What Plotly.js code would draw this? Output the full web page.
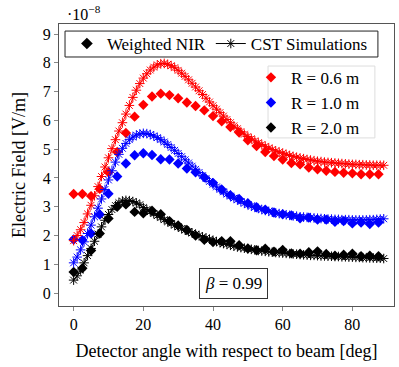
<!DOCTYPE html>
<html>
<head>
<meta charset="utf-8">
<script src="https://cdn.plot.ly/plotly-3.0.1.min.js"></script>
<style>
  html, body { margin: 0; padding: 0; background: #fff; }
  #chart { width: 399px; height: 367px; }
</style>
</head>
<body>
<div id="chart"></div>
<script>
// values are in units of 1e-8 V/m (the axis carries the ·10^-8 factor)
const nirAngle = [0, 2.5, 5, 7.5, 10, 12.5, 15, 17.5, 20, 22.5, 25, 27.5, 30, 32.5, 35, 37.5, 40, 42.5,
    45, 47.5, 50, 52.5, 55, 57.5, 60, 62.5, 65, 67.5, 70, 72.5, 75, 77.5, 80, 82.5, 85, 87.5];

const nirR06 = [3.44, 3.44, 3.37, 3.62, 4.2, 4.9, 5.56, 6.13, 6.54, 6.83, 6.93, 6.88, 6.77, 6.62, 6.5, 6.35, 6.15, 5.97,
    5.77, 5.58, 5.31, 5.11, 4.9, 4.76, 4.64, 4.52, 4.47, 4.36, 4.3, 4.25, 4.21, 4.18, 4.16, 4.13, 4.13, 4.13];
const nirR10 = [1.86, 1.84, 2.07, 2.73, 3.45, 4.05, 4.5, 4.79, 4.86, 4.8, 4.65, 4.64, 4.5, 4.33, 4.2, 4.02, 3.83, 3.6,
    3.4, 3.27, 3.12, 2.98, 2.9, 2.8, 2.74, 2.7, 2.6, 2.62, 2.55, 2.55, 2.48, 2.5, 2.42, 2.45, 2.4, 2.45];
const nirR20 = [0.73, 0.86, 1.48, 2.07, 2.59, 3.0, 3.08, 2.82, 2.77, 2.86, 2.74, 2.5, 2.35, 2.19, 2.0, 1.85, 1.77, 1.8,
    1.8, 1.66, 1.55, 1.49, 1.54, 1.44, 1.5, 1.38, 1.37, 1.42, 1.45, 1.36, 1.3, 1.33, 1.37, 1.28, 1.3, 1.28];

const cstAngle = [0, 1, 2, 3, 4, 5, 6, 7, 8, 9, 10, 11, 12, 13, 14, 15, 16, 17, 18, 19, 20, 21, 22, 23, 24, 25, 26, 27, 28, 29,
    30, 31, 32, 33, 34, 35, 36, 37, 38, 39, 40, 41, 42, 43, 44, 45, 46, 47, 48, 49, 50, 51, 52, 53, 54, 55, 56, 57, 58, 59,
    60, 61, 62, 63, 64, 65, 66, 67, 68, 69, 70, 71, 72, 73, 74, 75, 76, 77, 78, 79, 80, 81, 82, 83, 84, 85, 86, 87, 88, 89];

const cstR06 = [1.82, 2.0, 2.2, 2.45, 2.75, 3.05, 3.38, 3.7, 4.05, 4.38,
    4.7, 5.02, 5.33, 5.63, 5.92, 6.22, 6.52, 6.8, 7.05, 7.28,
    7.47, 7.62, 7.75, 7.85, 7.93, 7.97, 7.98, 7.95, 7.9, 7.83,
    7.74, 7.64, 7.53, 7.41, 7.29, 7.16, 7.03, 6.9, 6.77, 6.64,
    6.51, 6.39, 6.27, 6.15, 6.03, 5.92, 5.81, 5.71, 5.61, 5.52,
    5.44, 5.36, 5.29, 5.22, 5.16, 5.1, 5.04, 4.99, 4.94, 4.9,
    4.86, 4.82, 4.78, 4.75, 4.72, 4.69, 4.67, 4.64, 4.62, 4.6,
    4.58, 4.57, 4.55, 4.54, 4.53, 4.52, 4.51, 4.5, 4.49, 4.48,
    4.47, 4.47, 4.46, 4.46, 4.45, 4.45, 4.44, 4.44, 4.44, 4.44];
const cstR10 = [1.05, 1.25, 1.5, 1.78, 2.07, 2.36, 2.65, 2.95, 3.27, 3.6,
    3.93, 4.25, 4.55, 4.82, 5.03, 5.2, 5.33, 5.42, 5.49, 5.53,
    5.55, 5.54, 5.51, 5.46, 5.4, 5.33, 5.25, 5.16, 5.06, 4.96,
    4.85, 4.74, 4.63, 4.52, 4.41, 4.3, 4.19, 4.08, 3.98, 3.88,
    3.78, 3.69, 3.6, 3.52, 3.44, 3.37, 3.3, 3.24, 3.18, 3.12,
    3.07, 3.02, 2.98, 2.94, 2.9, 2.87, 2.84, 2.81, 2.78, 2.76,
    2.74, 2.72, 2.7, 2.68, 2.67, 2.65, 2.64, 2.63, 2.62, 2.61,
    2.6, 2.59, 2.58, 2.57, 2.57, 2.56, 2.56, 2.55, 2.55, 2.55,
    2.54, 2.54, 2.54, 2.54, 2.54, 2.55, 2.55, 2.56, 2.57, 2.58];
const cstR20 = [0.45, 0.6, 0.8, 1.05, 1.3, 1.55, 1.8, 2.05, 2.3, 2.53,
    2.73, 2.9, 3.04, 3.14, 3.2, 3.22, 3.21, 3.18, 3.13, 3.07,
    2.97, 2.9, 2.83, 2.76, 2.69, 2.62, 2.55, 2.48, 2.42, 2.36,
    2.3, 2.24, 2.19, 2.14, 2.09, 2.04, 2.0, 1.95, 1.91, 1.87,
    1.83, 1.79, 1.75, 1.72, 1.69, 1.66, 1.63, 1.6, 1.58, 1.56,
    1.54, 1.52, 1.5, 1.48, 1.46, 1.45, 1.43, 1.42, 1.41, 1.4,
    1.39, 1.38, 1.37, 1.36, 1.35, 1.34, 1.33, 1.32, 1.31, 1.31,
    1.3, 1.29, 1.29, 1.28, 1.28, 1.27, 1.27, 1.26, 1.26, 1.25,
    1.25, 1.24, 1.24, 1.23, 1.23, 1.22, 1.22, 1.21, 1.21, 1.2];

const radiusNames = ["R = 0.6 m", "R = 1.0 m", "R = 2.0 m"];
const colors = ["#ff0000", "#0000ff", "#000000"];

const font = "'Liberation Serif', 'Times New Roman', serif";

const nirSeries = [nirR06, nirR10, nirR20];
const cstSeries = [cstR06, cstR10, cstR20];

const traces = [];

// dummy entries for the marker-type legend
traces.push({
    x: [null], y: [null],
    mode: "markers",
    name: "Weighted NIR",
    marker: { symbol: "diamond", size: 9, color: "black" },
    legend: "legend"
});
traces.push({
    x: [null], y: [null],
    mode: "lines+markers",
    name: "CST Simulations",
    marker: { symbol: "asterisk-open", size: 8, color: "black", line: { color: "black", width: 1 } },
    line: { color: "black", width: 1 },
    legend: "legend"
});

nirSeries.forEach((vals, i) => {
    traces.push({
        x: nirAngle,
        y: vals,
        mode: "markers",
        name: radiusNames[i],
        marker: { symbol: "diamond", size: 8, color: colors[i] },
        legend: "legend2"
    });
});

cstSeries.forEach((vals, i) => {
    traces.push({
        x: cstAngle,
        y: vals,
        mode: "lines+markers",
        name: radiusNames[i] + " CST",
        showlegend: false,
        marker: { symbol: "asterisk-open", size: 8, color: colors[i], line: { color: colors[i], width: 1 } },
        line: { color: colors[i], width: 1 }
    });
});

const layout = {
    width: 399,
    height: 367,
    margin: { l: 59, r: 5, t: 24, b: 61 },
    paper_bgcolor: "white",
    plot_bgcolor: "white",
    font: { family: font, size: 16, color: "#000" },
    xaxis: {
        range: [-4.2, 91.95],
        tickvals: [0, 20, 40, 60, 80],
        ticks: "outside",
        ticklen: 4,
        tickcolor: "#888",
        showgrid: false,
        zeroline: false,
        showline: true,
        mirror: true,
        linecolor: "#555",
        linewidth: 1,
        tickfont: { family: font, size: 16 },
        title: { text: "Detector angle with respect to beam [deg]", font: { family: font, size: 18 }, standoff: 12 }
    },
    yaxis: {
        range: [-0.45, 9.35],
        tickvals: [0, 1, 2, 3, 4, 5, 6, 7, 8, 9],
        ticks: "outside",
        ticklen: 4,
        tickcolor: "#888",
        showgrid: false,
        zeroline: false,
        showline: true,
        mirror: true,
        linecolor: "#555",
        linewidth: 1,
        tickfont: { family: font, size: 16 },
        title: { text: "Electric Field [V/m]", font: { family: font, size: 18 }, standoff: 12 }
    },
    showlegend: true,
    legend: {
        orientation: "h",
        x: 0.937, xanchor: "right",
        y: 0.993, yanchor: "top",
        bgcolor: "rgba(0,0,0,0)",
        borderwidth: 0,
        font: { family: font, size: 17 }
    },
    legend2: {
        x: 0.573, xanchor: "left",
        y: 0.873, yanchor: "top",
        bgcolor: "rgba(0,0,0,0)",
        borderwidth: 0,
        font: { family: font, size: 17 }
    },
    // legend frames
    shapes: [
        {
            type: "rect", xref: "paper", yref: "paper", layer: "above",
            x0: 0.018, x1: 0.952, y0: 0.883, y1: 0.975,
            line: { color: "#222", width: 1 },
            fillcolor: "white"
        },
        {
            type: "rect", xref: "paper", yref: "paper", layer: "above",
            x0: 0.624, x1: 0.943, y0: 0.596, y1: 0.851,
            line: { color: "#ddd", width: 1 },
            fillcolor: "white"
        }
    ],
    annotations: [
        {
            xref: "paper", yref: "paper",
            x: 0.018, y: 1, xanchor: "left", yanchor: "bottom",
            yshift: -1,
            showarrow: false,
            text: "·10<sup>−8</sup>",
            font: { family: font, size: 16 }
        },
        {
            xref: "paper", yref: "paper",
            x: 0.522, y: 0.08, xanchor: "center", yanchor: "middle",
            showarrow: false,
            text: "<i>β</i> = 0.99",
            font: { family: font, size: 17 },
            bgcolor: "white",
            bordercolor: "#333",
            borderwidth: 1,
            borderpad: 5
        }
    ]
};

Plotly.newPlot("chart", traces, layout, { displayModeBar: false, staticPlot: true });
</script>
</body>
</html>
